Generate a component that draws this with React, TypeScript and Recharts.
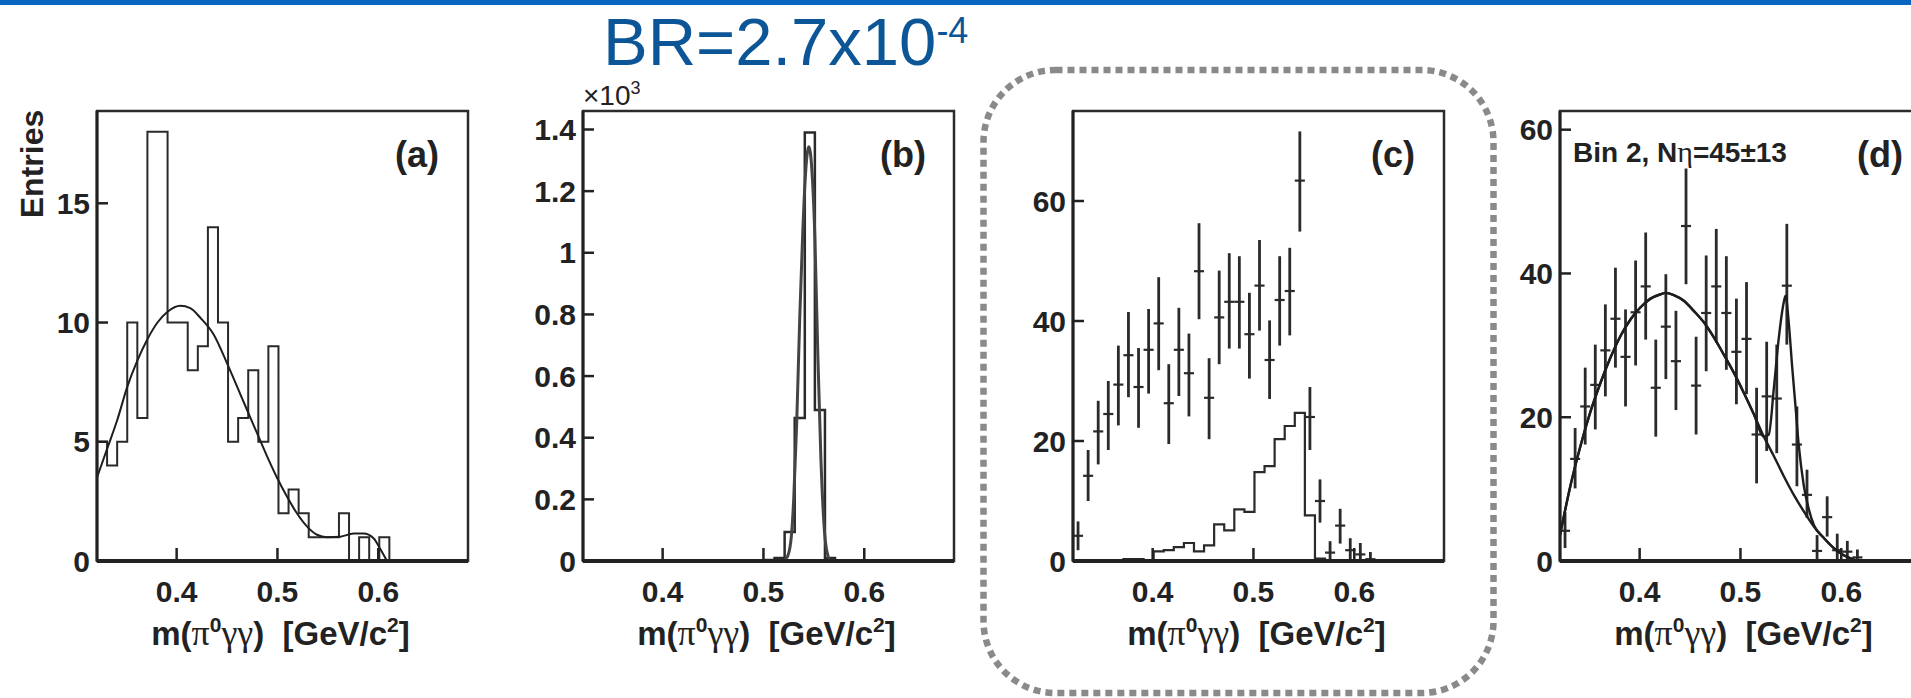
import React from 'react';
import { ComposedChart, Line, Scatter, ErrorBar, XAxis, YAxis, ReferenceArea } from 'recharts';

const FONT = '"Liberation Sans", Arial, Helvetica, sans-serif';
const GREEK = '"Liberation Serif", "DejaVu Serif", serif';
const INK = '#222';

const X_DOMAIN: [number, number] = [0.321, 0.689];
const X_TICKS = [0.4, 0.5, 0.6];
const BIN_START = 0.321;
const BIN_WIDTH = 0.01;

// ---- Panel (a): histogram + fit curve
const aCounts = [5, 4, 5, 10, 6, 18, 18, 10, 10, 8, 9, 14, 10, 5, 6, 8, 5, 9, 2, 3, 2, 1, 1, 1, 2, 0, 1, 0, 1, 0];
const aCurveX = [0.321, 0.331, 0.341, 0.351, 0.361, 0.371, 0.381, 0.391, 0.4036, 0.4135, 0.4235, 0.4367, 0.4509, 0.4631, 0.4763, 0.4896, 0.4995, 0.5094, 0.5193, 0.5292, 0.5392, 0.5491, 0.5623, 0.5755, 0.5854, 0.5953, 0.602, 0.6086];
const aCurveY = [3.5, 4.7, 5.9, 7.3, 8.4, 9.3, 10.0, 10.45, 10.7, 10.6, 10.2, 9.5, 8.2, 7.0, 5.7, 4.4, 3.5, 2.7, 2.0, 1.45, 1.1, 1.0, 1.02, 1.15, 1.15, 0.95, 0.5, 0];
const aYTicks = [0, 5, 10, 15];

// ---- Panel (b): signal MC (x10^3) histogram + gaussian
const bHistStart = 0.501;
const bCounts = [0.003, 0.01, 0.094, 0.464, 1.39, 0.49, 0.01, 0];
const bCurveX = [0.5, 0.518, 0.523, 0.527, 0.53, 0.533, 0.536, 0.539, 0.542, 0.545, 0.548, 0.551, 0.554, 0.557, 0.56, 0.563, 0.567, 0.58];
const bCurveY = [0, 0, 0.01, 0.06, 0.2, 0.45, 0.79, 1.07, 1.27, 1.344, 1.27, 1.05, 0.66, 0.33, 0.12, 0.03, 0, 0];
const bYTicks = [0, 0.2, 0.4, 0.6, 0.8, 1, 1.2, 1.4];

// ---- Panel (c): data points with errors + MC histogram
const cVal = [4.2, 14.2, 21.6, 24.5, 29.4, 34.3, 29, 35.2, 39.6, 26.3, 35.2, 31.3, 48.3, 27.2, 40.6, 43.2, 43.2, 37.8, 45.9, 33.5, 43.5, 45, 63.4, 24, 10, 1.4, 5.9, 1.8, 1.1, 0.3];
const cLo = [1.8, 10, 16.1, 18.5, 22.6, 27.3, 22.2, 27.9, 31.8, 19.5, 27.5, 24.1, 40.3, 20.3, 32.8, 35.4, 35.4, 30.4, 38.4, 27, 35.9, 37.6, 54.9, 18.5, 6.4, 0, 2.9, 0, 0, 0];
const cHi = [6.6, 18.5, 26.7, 30, 35.9, 41.5, 35.5, 42, 47.3, 32.8, 42.2, 37.9, 56.3, 33.8, 48.4, 51.3, 50.8, 44.7, 53.5, 40.1, 50.8, 52.2, 71.6, 29, 13.6, 3.3, 8.7, 3.8, 3.0, 1.5];
const cHist = [0, 0, 0, 0, 0, 0.3, 0.3, 0.1, 1.6, 1.8, 2.3, 3.0, 1.6, 2.6, 6.1, 5.1, 8.6, 8.2, 14.8, 15.8, 20.3, 22.5, 24.7, 7.6, 0.4, 0.1, 0];
const cYTicks = [0, 20, 40, 60];

// ---- Panel (d): data points + total fit + background
const dVal = [4.2, 14.2, 21.5, 24.5, 29.3, 33.7, 28.4, 34.6, 38.2, 24.1, 32.6, 27.8, 46.6, 24.4, 34.5, 38.2, 34.5, 29.1, 30.9, 17.6, 22.9, 22.6, 38.3, 16.2, 9.2, 1.4, 6.1, 1.5, 1.3, 0.5];
const dLo = [1.8, 10.1, 16.2, 18.3, 22.9, 26.9, 21.5, 27.2, 30.8, 17.3, 25.3, 21, 38.5, 17.6, 26.4, 30.4, 26.6, 21.8, 23.2, 10.8, 15.3, 15, 30.1, 10.4, 6.0, 0.1, 3.4, 0, 0, 0];
const dHi = [6.8, 18.5, 26.9, 30.1, 35.7, 40.8, 35, 41.8, 45.7, 30.8, 39.9, 34.8, 54.6, 31.2, 42.5, 46.2, 42.4, 36.5, 38.8, 24.1, 30.5, 30.1, 46.9, 21.5, 12.7, 3.6, 9.0, 3.8, 2.8, 1.6];
const dBgX = [0.321, 0.3314, 0.3413, 0.3513, 0.3612, 0.3711, 0.381, 0.3909, 0.4009, 0.4108, 0.4207, 0.4257, 0.4339, 0.4438, 0.4537, 0.4637, 0.4736, 0.4835, 0.4934, 0.5033, 0.5133, 0.5232, 0.5331, 0.543, 0.5529, 0.5628, 0.5728, 0.5827, 0.5926, 0.6025, 0.6125, 0.6174];
const dBgY = [3.6, 10.5, 16.0, 20.8, 24.8, 28.3, 31.3, 33.6, 35.3, 36.5, 37.1, 37.3, 37, 36.2, 34.8, 33.2, 31.1, 28.7, 26.2, 23.4, 20.4, 17.3, 14.6, 11.8, 9.2, 6.9, 4.8, 3.2, 1.8, 0.8, 0.2, 0];
const dFitX = [0.321, 0.3314, 0.3413, 0.3513, 0.3612, 0.3711, 0.381, 0.3909, 0.4009, 0.4108, 0.4207, 0.4257, 0.4339, 0.4438, 0.4537, 0.4637, 0.4736, 0.4835, 0.4934, 0.5033, 0.5133, 0.5232, 0.5281, 0.5331, 0.538, 0.5423, 0.5447, 0.548, 0.5513, 0.5546, 0.5579, 0.5628, 0.5678, 0.5728, 0.5827, 0.5926, 0.6025, 0.6125, 0.6174];
const dFitY = [3.6, 10.5, 16.0, 20.8, 24.8, 28.3, 31.3, 33.6, 35.3, 36.5, 37.1, 37.3, 37, 36.2, 34.8, 33.2, 31.1, 28.7, 26.2, 23.4, 20.4, 17.3, 17.6, 24, 31, 35.5, 36.9, 33, 27, 21.5, 16, 10.5, 7.2, 5.0, 3.2, 1.8, 0.8, 0.2, 0];
const dYTicks = [0, 20, 40, 60];

// ---- helpers to build tables for the library
const histData = (start: number, counts: number[]) => {
  const pts = counts.map((c, i) => ({ x: +(start + i * BIN_WIDTH).toFixed(4), y: c }));
  pts.push({ x: +(start + counts.length * BIN_WIDTH).toFixed(4), y: counts[counts.length - 1] });
  pts.push({ x: X_DOMAIN[1], y: 0 });
  return pts;
};
const curveData = (xs: number[], ys: number[]) => xs.map((x, i) => ({ x, y: ys[i] }));
const pointData = (vals: number[], lo: number[], hi: number[]) =>
  vals.map((v, i) => ({
    x: +(BIN_START + BIN_WIDTH / 2 + i * BIN_WIDTH).toFixed(4),
    y: v,
    ey: [Math.max(0, v - lo[i]), Math.max(0, hi[i] - v)],
    ex: BIN_WIDTH / 2,
  }));

const aHist = histData(BIN_START, aCounts);
const aCurve = curveData(aCurveX, aCurveY);
const bHist = histData(bHistStart, bCounts);
const bCurve = curveData(bCurveX, bCurveY);
const cPoints = pointData(cVal, cLo, cHi);
const cHistData = histData(BIN_START, cHist);
const dPoints = pointData(dVal, dLo, dHi);
const dBg = curveData(dBgX, dBgY);
const dFit = curveData(dFitX, dFitY);

const FRAME_W = 371;
const PLOT_TOP = 111;
const PLOT_H = 450;
const CHART_H = 698;
const Y_AXIS_W = 100;

const XTick = (props: any) => {
  const { x, y, payload } = props;
  return (
    <g>
      <line x1={x} x2={x} y1={y} y2={y - 13} stroke={INK} strokeWidth={2.5} />
      <text x={x} y={y + 41} textAnchor="middle" fontSize={30} fontWeight="bold" fill={INK} fontFamily={FONT}>
        {Number(payload.value).toFixed(1)}
      </text>
    </g>
  );
};

const fmtY = (v: number) => (Number.isInteger(v) ? String(v) : v.toFixed(1));

const YTick = (props: any) => {
  const { x, y, payload } = props;
  return (
    <g>
      <line x1={x} x2={x + 11} y1={y} y2={y} stroke={INK} strokeWidth={2.5} />
      <text x={x - 7} y={y + 10.5} textAnchor="end" fontSize={30} fontWeight="bold" fill={INK} fontFamily={FONT}>
        {fmtY(Number(payload.value))}
      </text>
    </g>
  );
};

const NoDot = () => <g />;

type PanelProps = { frameLeft: number; yMax: number; yTicks: number[]; children?: React.ReactNode };

const Panel = ({ frameLeft, yMax, yTicks, children }: PanelProps) => (
  <div style={{ position: 'absolute', left: frameLeft - Y_AXIS_W, top: 0, width: Y_AXIS_W + FRAME_W + 20, height: CHART_H }}>
    <ComposedChart
      width={Y_AXIS_W + FRAME_W + 20}
      height={CHART_H}
      margin={{ top: PLOT_TOP, right: 20, bottom: 0, left: 0 }}
    >
      <XAxis
        type="number"
        dataKey="x"
        domain={X_DOMAIN}
        ticks={X_TICKS}
        allowDataOverflow
        interval={0}
        height={CHART_H - PLOT_TOP - PLOT_H}
        tickSize={0}
        tickMargin={0}
        tickLine={false}
        tick={(p: any) => <XTick {...p} />}
        axisLine={{ stroke: INK, strokeWidth: 4 }}
      />
      <YAxis
        type="number"
        dataKey="y"
        domain={[0, yMax]}
        ticks={yTicks}
        allowDataOverflow
        interval={0}
        width={Y_AXIS_W}
        tickSize={0}
        tickMargin={0}
        tickLine={false}
        tick={(p: any) => <YTick {...p} />}
        axisLine={{ stroke: INK, strokeWidth: 3 }}
      />
      <ReferenceArea x1={X_DOMAIN[0]} x2={X_DOMAIN[1]} y1={0} y2={yMax} fill="none" stroke="#2b2b2b" strokeWidth={2.5} />
      {children}
    </ComposedChart>
  </div>
);

const AxisTitle = ({ cx }: { cx: number }) => (
  <text x={cx} y={645} textAnchor="middle" fontSize={33} fontWeight="bold" fill={INK} fontFamily={FONT} style={{ whiteSpace: 'pre' }}>
    <tspan>m(</tspan>
    <tspan fontFamily={GREEK} fontWeight="normal" fontSize={36}>π</tspan>
    <tspan dy={-13} fontSize={21}>0</tspan>
    <tspan dy={13} fontFamily={GREEK} fontWeight="normal" fontSize={36}>γγ</tspan>
    <tspan>)  [GeV/c</tspan>
    <tspan dy={-13} fontSize={21}>2</tspan>
    <tspan dy={13}>]</tspan>
  </text>
);

const FRAMES = [97, 583, 1073, 1560];
const PANEL_TAGS = ['(a)', '(b)', '(c)', '(d)'];

export default function App() {
  return (
    <div style={{ position: 'absolute', left: 0, top: 0, width: 1911, height: 698, overflow: 'hidden', background: '#fff' }}>
      <Panel frameLeft={FRAMES[0]} yMax={18.87} yTicks={aYTicks}>
        <Line data={aHist} dataKey="y" type="stepAfter" dot={false} activeDot={false} stroke="#2a2a2a" strokeWidth={2} isAnimationActive={false} />
        <Line data={aCurve} dataKey="y" type="monotone" dot={false} activeDot={false} stroke="#1e1e1e" strokeWidth={2} isAnimationActive={false} />
      </Panel>
      <Panel frameLeft={FRAMES[1]} yMax={1.46} yTicks={bYTicks}>
        <Line data={bHist} dataKey="y" type="stepAfter" dot={false} activeDot={false} stroke="#2a2a2a" strokeWidth={2.5} isAnimationActive={false} />
        <Line data={bCurve} dataKey="y" type="monotone" dot={false} activeDot={false} stroke="#444" strokeWidth={3} isAnimationActive={false} />
      </Panel>
      <Panel frameLeft={FRAMES[2]} yMax={75} yTicks={cYTicks}>
        <Line data={cHistData} dataKey="y" type="stepAfter" dot={false} activeDot={false} stroke="#2a2a2a" strokeWidth={2.2} isAnimationActive={false} />
        <Scatter data={cPoints} dataKey="y" shape={NoDot} isAnimationActive={false}>
          <ErrorBar dataKey="ey" direction="y" width={0} stroke="#2a2a2a" strokeWidth={2.8} isAnimationActive={false} />
          <ErrorBar dataKey="ex" direction="x" width={0} stroke="#2a2a2a" strokeWidth={2.2} isAnimationActive={false} />
        </Scatter>
      </Panel>
      <Panel frameLeft={FRAMES[3]} yMax={62.6} yTicks={dYTicks}>
        <Scatter data={dPoints} dataKey="y" shape={NoDot} isAnimationActive={false}>
          <ErrorBar dataKey="ey" direction="y" width={0} stroke="#2a2a2a" strokeWidth={2.8} isAnimationActive={false} />
          <ErrorBar dataKey="ex" direction="x" width={0} stroke="#2a2a2a" strokeWidth={2.2} isAnimationActive={false} />
        </Scatter>
        <Line data={dBg} dataKey="y" type="monotone" dot={false} activeDot={false} stroke="#1e1e1e" strokeWidth={2.4} isAnimationActive={false} />
        <Line data={dFit} dataKey="y" type="monotone" dot={false} activeDot={false} stroke="#1e1e1e" strokeWidth={2.4} isAnimationActive={false} />
      </Panel>

      <svg width={1911} height={698} style={{ position: 'absolute', left: 0, top: 0, pointerEvents: 'none' }}>
        <rect x={0} y={0} width={1911} height={5} fill="#0866c0" />
        <text x={603} y={65} fontSize={67} fill="#0c5597" fontFamily={FONT}>
          BR=2.7x10<tspan dy={-22} fontSize={36}>-4</tspan>
        </text>
        <rect x={983.5} y={70} width={510} height={623} rx={72} ry={72} fill="none" stroke="#8a8a8a" strokeWidth={6.5} strokeDasharray="7 5" />
        {FRAMES.map((f, i) => (
          <text key={i} x={f + FRAME_W - 51} y={167} textAnchor="middle" fontSize={36} fontWeight="bold" fill={INK} fontFamily={FONT}>
            {PANEL_TAGS[i]}
          </text>
        ))}
        {FRAMES.map((f, i) => (
          <AxisTitle key={'t' + i} cx={f + FRAME_W / 2 - 2} />
        ))}
        <text x={43} y={164} textAnchor="middle" fontSize={32} fontWeight="bold" fill={INK} fontFamily={FONT} transform="rotate(-90 43 164)">
          Entries
        </text>
        <text x={583} y={105} fontSize={28} fill={INK} fontFamily={FONT}>
          ×10<tspan dy={-11} fontSize={18}>3</tspan>
        </text>
        <text x={1573} y={162} fontSize={28} fontWeight="bold" fill={INK} fontFamily={FONT}>
          Bin 2, N<tspan fontFamily={GREEK} fontWeight="normal" fontSize={30}>η</tspan>=45±13
        </text>
      </svg>
    </div>
  );
}
